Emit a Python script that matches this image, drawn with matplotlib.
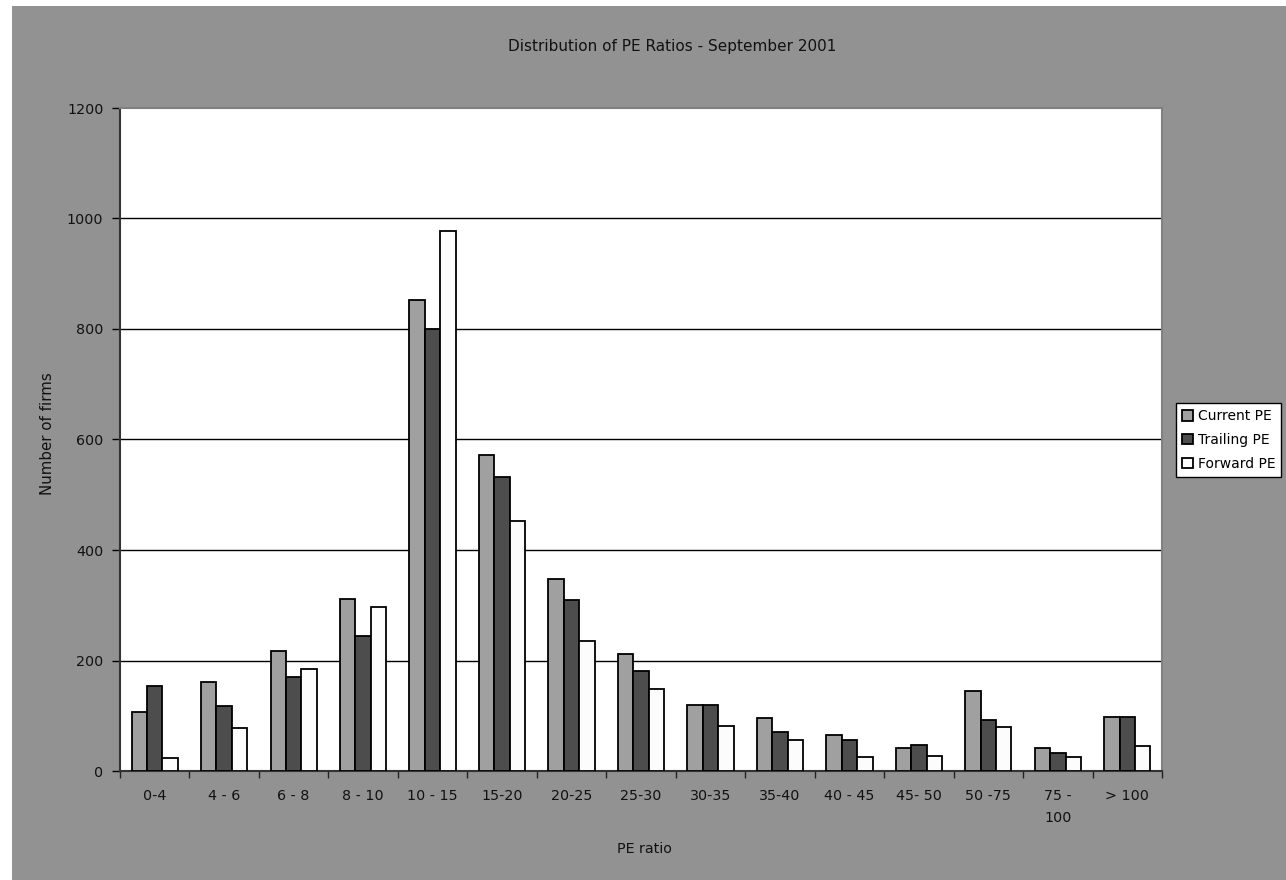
import numpy as np
import matplotlib
matplotlib.use("Agg")
import matplotlib.pyplot as plt
from matplotlib.patches import Rectangle

# Daten
kategorien = ["0-4", "4 - 6", "6 - 8", "8 - 10", "10 - 15", "15-20", "20-25", "25-30",
              "30-35", "35-40", "40 - 45", "45- 50", "50 -75", "75 -\n100", "> 100"]
current_pe = [107, 161, 217, 311, 853, 572, 347, 212, 119, 96, 65, 42, 145, 42, 97]
trailing_pe = [154, 118, 170, 245, 800, 532, 310, 181, 119, 70, 57, 47, 92, 33, 97]
forward_pe = [24, 78, 184, 296, 978, 453, 236, 148, 81, 56, 25, 28, 80, 26, 46]

W, H = 1286, 880
grau = "#929292"
fs = 10.3
plt.rcParams["font.family"] = "DejaVu Sans"

fig = plt.figure(figsize=(W / 100, H / 100), dpi=100, facecolor="white")
# grauer Hintergrund (oben und links ein weisser Rand)
fig.patches.append(Rectangle((12 / W, 0), 1 - 12 / W, (H - 6) / H,
                             transform=fig.transFigure, facecolor=grau,
                             edgecolor="none", zorder=-10))

ax = fig.add_axes([120 / W, 1 - 771 / H, (1162 - 120) / W, (771 - 108) / H])
ax.set_facecolor("white")

x = np.arange(len(kategorien))
b = 0.222
ax.bar(x - b, current_pe, b, color="#a0a0a0", edgecolor="black", linewidth=1.3,
       label="Current PE", zorder=3)
ax.bar(x, trailing_pe, b, color="#4d4d4d", edgecolor="black", linewidth=1.3,
       label="Trailing PE", zorder=3)
ax.bar(x + b, forward_pe, b, color="#fcfcfc", edgecolor="black", linewidth=1.3,
       label="Forward PE", zorder=3)

ax.set_xlim(-0.5, len(kategorien) - 0.5)
ax.set_ylim(0, 1200)
ax.set_yticks(np.arange(0, 1201, 200))
for yv in range(200, 1200, 200):
    ax.axhline(yv, color="black", linewidth=1.0, zorder=1)

ax.set_xticks(x)
ax.set_xticklabels(kategorien, fontsize=fs, color="#111111", linespacing=1.75)
ax.set_xticks(np.arange(-0.5, len(kategorien)), minor=True)
ax.tick_params(axis="x", which="major", length=0, pad=13)
ax.tick_params(axis="x", which="minor", length=5, width=1, color="#222222")
ax.tick_params(axis="y", length=6, width=1, labelsize=fs, labelcolor="#111111", pad=6)

for s in ["top", "right"]:
    ax.spines[s].set_color("#808080")
    ax.spines[s].set_linewidth(1.5)
for s in ["left", "bottom"]:
    ax.spines[s].set_color("#333333")
    ax.spines[s].set_linewidth(1.5)

fig.text(672 / W, 1 - 46 / H, "Distribution of PE Ratios - September 2001",
         ha="center", va="center", fontsize=11, color="#111111")
fig.text(644 / W, 1 - 849 / H, "PE ratio", ha="center", va="center",
         fontsize=fs, color="#111111")
fig.text(48 / W, 1 - 434 / H, "Number of firms", ha="center", va="center",
         rotation=90, fontsize=10.8, color="#111111")

leg = fig.legend(loc="center left", bbox_to_anchor=(1176 / W, 1 - 440 / H),
                 fontsize=10, frameon=True, fancybox=False, handlelength=0.8,
                 handleheight=0.8, handletextpad=0.3, borderpad=0.45,
                 labelspacing=0.7, borderaxespad=0)
leg.get_frame().set_edgecolor("black")
leg.get_frame().set_linewidth(1.0)
leg.get_frame().set_facecolor("white")
leg.get_frame().set_alpha(1)

fig.savefig("out.png", dpi=100, facecolor=fig.get_facecolor())
